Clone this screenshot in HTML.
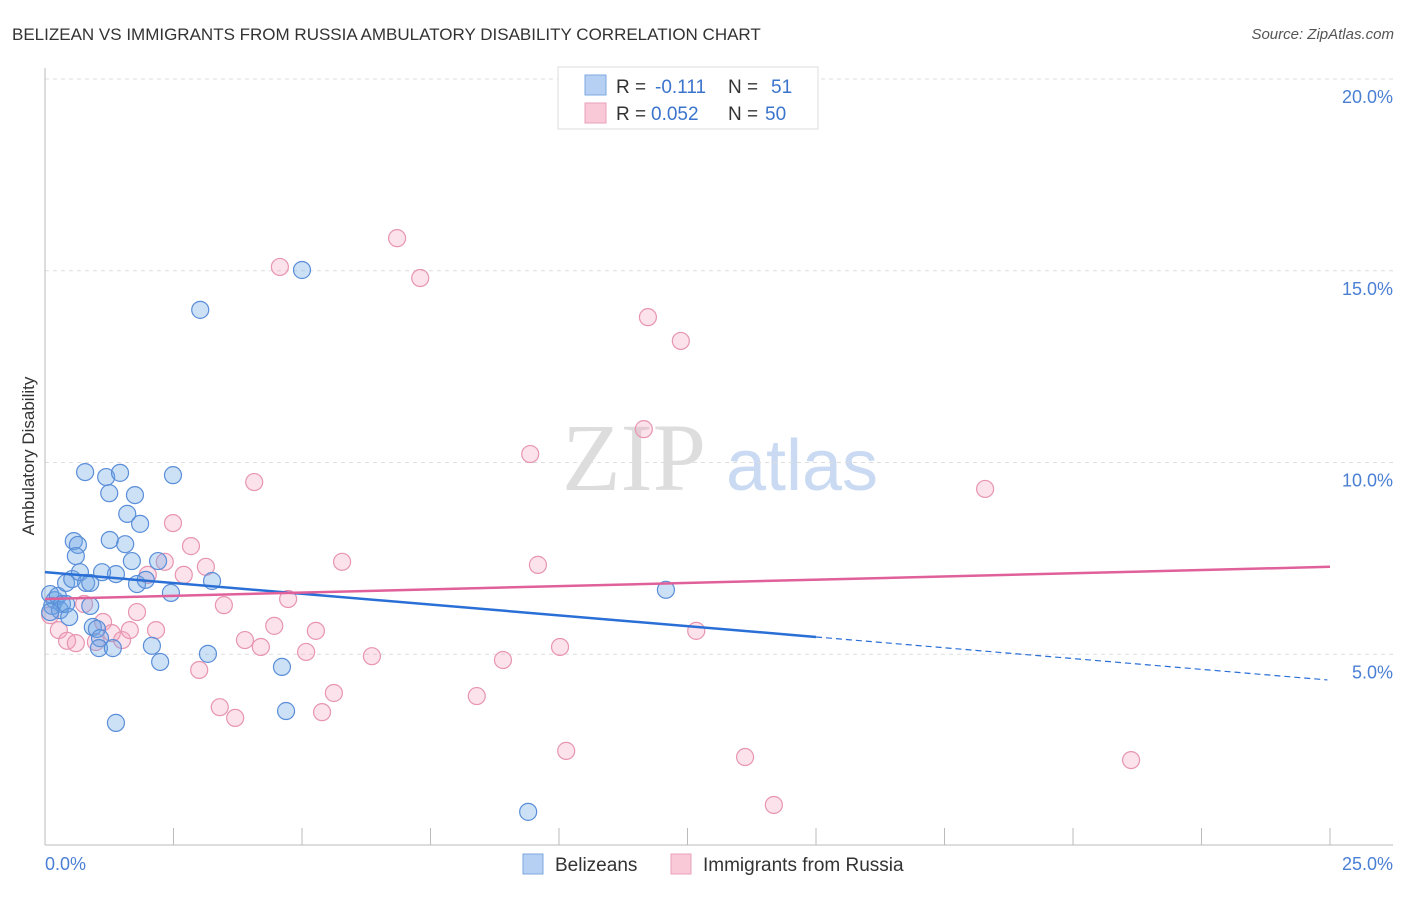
<!DOCTYPE html>
<html><head><meta charset="utf-8"><style>
body{margin:0;background:#fff;}
svg text{font-family:"Liberation Sans",sans-serif;}
</style></head><body>
<svg id="chart" width="1406" height="892" xmlns="http://www.w3.org/2000/svg">
<text x="12" y="40" font-size="17" fill="#333">BELIZEAN VS IMMIGRANTS FROM RUSSIA AMBULATORY DISABILITY CORRELATION CHART</text>
<text x="1394" y="39" font-size="15" fill="#555" font-style="italic" text-anchor="end">Source: ZipAtlas.com</text>
<g>
<text x="634" y="490" font-size="96" fill="#ddd" font-family="Liberation Serif" text-anchor="middle" style="font-family:'Liberation Serif',serif">ZIP</text>
<text x="802" y="490" font-size="72" fill="#c9daf2" text-anchor="middle">atlas</text>
</g>
<g id="grid"></g>
<line x1="45" y1="68" x2="45" y2="845" stroke="#bbb"/>
<line x1="45" y1="845" x2="1393" y2="845" stroke="#bbb"/>
<g id="xticks"></g>
<text x="45" y="870" font-size="18" fill="#4a7fd4">0.0%</text>
<text x="1393" y="870" font-size="18" fill="#4a7fd4" text-anchor="end">25.0%</text>
<text transform="translate(34,456) rotate(-90)" font-size="17" fill="#333" text-anchor="middle">Ambulatory Disability</text>
<g id="pink"></g>
<g id="blue"></g>
<g id="trends"></g>
<g>
<rect x="558" y="67" width="260" height="62" fill="#fff" stroke="#ddd"/>
<rect x="585" y="75" width="21" height="20" fill="#b5d0f2" stroke="#7ea7e0"/>
<rect x="585" y="103" width="21" height="20" fill="#f9c9d8" stroke="#eaa0b8"/>
<text x="616" y="93" font-size="19" fill="#333">R = </text><text x="655" y="93" font-size="19" fill="#3b74cc">-0.111</text>
<text x="728" y="93" font-size="19" fill="#333">N = </text><text x="771" y="93" font-size="19" fill="#3b74cc">51</text>
<text x="616" y="120" font-size="19" fill="#333">R = </text><text x="651" y="120" font-size="19" fill="#3b74cc">0.052</text>
<text x="728" y="120" font-size="19" fill="#333">N = </text><text x="765" y="120" font-size="19" fill="#3b74cc">50</text>
</g>
<g>
<rect x="523" y="854" width="20" height="20" fill="#b5d0f2" stroke="#7ea7e0"/>
<text x="555" y="871" font-size="19" fill="#333">Belizeans</text>
<rect x="671" y="854" width="20" height="20" fill="#f9c9d8" stroke="#eaa0b8"/>
<text x="703" y="871" font-size="19" fill="#333">Immigrants from Russia</text>
</g>
</svg>
<script>
const yTicks=[5,10,15,20];
const yTickLabels=["5.0%","10.0%","15.0%","20.0%"];
const blueX=[0.10,0.19,0.14,0.25,0.33,0.29,0.41,0.47,0.56,0.64,0.60,0.41,0.53,0.68,0.80,0.88,0.88,0.78,1.19,1.46,1.25,1.75,2.49,1.60,1.85,1.26,1.56,1.69,1.38,1.11,1.79,1.96,2.20,2.45,3.25,0.93,1.01,1.07,1.05,1.32,2.08,2.24,3.17,4.61,4.69,1.38,3.02,5.00,12.08,9.40,0.10];
const blueY=[6.57,6.41,6.26,6.52,6.31,6.15,6.31,5.97,7.95,7.85,7.56,6.86,6.96,7.14,6.86,6.86,6.26,9.75,9.62,9.73,9.20,9.15,9.67,8.66,8.40,7.98,7.87,7.43,7.09,7.14,6.83,6.94,7.43,6.60,6.91,5.71,5.66,5.42,5.16,5.16,5.22,4.80,5.01,4.67,3.52,3.21,13.98,15.02,6.68,0.89,6.10];
const pinkX=[4.57,6.85,7.30,11.73,12.37,11.65,9.44,4.07,18.29,2.49,2.84,2.33,2.00,2.70,3.13,5.78,9.59,4.73,3.48,1.79,1.13,0.76,0.27,0.43,0.60,0.99,1.30,1.50,1.65,2.16,3.89,4.46,5.27,4.20,5.08,6.36,8.91,10.02,12.67,3.00,5.62,8.40,3.40,3.70,5.39,10.14,13.62,14.18,21.13,0.10];
const pinkY=[15.10,15.85,14.81,13.79,13.17,10.87,10.22,9.49,9.31,8.42,7.82,7.41,7.07,7.07,7.28,7.41,7.33,6.44,6.28,6.10,5.84,6.31,5.63,5.35,5.29,5.32,5.55,5.37,5.63,5.63,5.37,5.74,5.61,5.19,5.06,4.95,4.85,5.19,5.61,4.59,3.99,3.91,3.62,3.34,3.49,2.48,2.32,1.07,2.24,6.02];
const blueTrend=[7.14,4.33];
const pinkTrend=[6.44,7.28];
const NS="http://www.w3.org/2000/svg";
const sx=v=>45+v/25*1285;
const sy=v=>846-v*38.35;
function mk(tag,attrs,parent){const e=document.createElementNS(NS,tag);for(const k in attrs)e.setAttribute(k,attrs[k]);parent.appendChild(e);return e;}
const grid=document.getElementById('grid');
yTicks.forEach((t,i)=>{
  const l=mk('line',{x1:45,x2:1393,y1:sy(t),y2:sy(t),stroke:'#ddd','stroke-dasharray':'4,4'},grid);
  
  
  const tx=mk('text',{x:1393,y:sy(t)+24,'font-size':18,fill:'#4a7fd4','text-anchor':'end'},grid);
  tx.textContent=yTickLabels[i];
  
  
});
const xt=document.getElementById('xticks');
for(let i=1;i<=10;i++){
  const l=mk('line',{x1:sx(i*2.5),x2:sx(i*2.5),y1:828,y2:845,stroke:'#bbb'},xt);
  
  
}
function pts(xs,ys,g,fill,stroke,name){
  xs.forEach((x,i)=>{
    const c=mk('circle',{cx:sx(x),cy:sy(ys[i]),r:8.5,fill:fill,stroke:stroke,'stroke-width':1.2},g);
    
    
  });
}
pts(pinkX,pinkY,document.getElementById('pink'),'rgba(244,160,188,0.3)','#e795b0','russia-point');
pts(blueX,blueY,document.getElementById('blue'),'rgba(110,165,230,0.35)','#5a8ed8','belizean-point');
const tr=document.getElementById('trends');
const bAt=x=>blueTrend[0]+(blueTrend[1]-blueTrend[0])*x/24.95;
const b1=mk('line',{x1:sx(0),y1:sy(bAt(0)),x2:sx(15),y2:sy(bAt(15)),stroke:'#2a6fd6','stroke-width':2.5},tr);


const b2=mk('line',{x1:sx(15),y1:sy(bAt(15)),x2:sx(24.95),y2:sy(bAt(24.95)),stroke:'#2a6fd6','stroke-width':1.2,'stroke-dasharray':'6,4'},tr);


const p1=mk('line',{x1:sx(0),y1:sy(pinkTrend[0]),x2:sx(25),y2:sy(pinkTrend[1]),stroke:'#e0609a','stroke-width':2.5},tr);


</script>
</body></html>
